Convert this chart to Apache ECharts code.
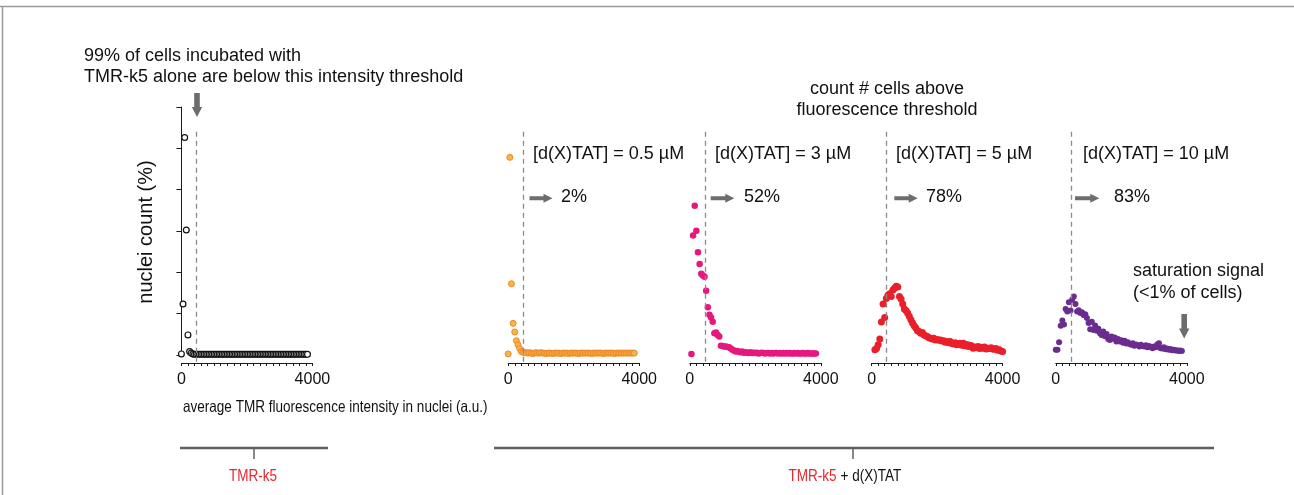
<!DOCTYPE html>
<html>
<head>
<meta charset="utf-8">
<script src="https://cdn.jsdelivr.net/npm/echarts@6.0.0/dist/echarts.min.js"></script>
<style>
  html, body { margin: 0; padding: 0; background: #fff; }
  #chart { width: 1294px; height: 495px; }
</style>
</head>
<body>
<div id="chart"></div>
<script>
// intensity bins (a.u.)
const bins = [
  0, 50, 100, 150, 200, 250, 300, 350, 400, 450,
  500, 550, 600, 650, 700, 750, 800, 850, 900, 950,
  1000, 1050, 1100, 1150, 1200, 1250, 1300, 1350, 1400, 1450,
  1500, 1550, 1600, 1650, 1700, 1750, 1800, 1850, 1900, 1950,
  2000, 2050, 2100, 2150, 2200, 2250, 2300, 2350, 2400, 2450,
  2500, 2550, 2600, 2650, 2700, 2750, 2800, 2850, 2900, 2950,
  3000, 3050, 3100, 3150, 3200, 3250, 3300, 3350, 3400, 3450,
  3500, 3550, 3600, 3650, 3700, 3750, 3800, 3850, 3900, 3950,
  4000
];

// nuclei count (%) per bin
const tmrAlone = [
  0.2, 12.3, 52.6, 30.2, 4.8, 0.8, 0.4, 0.2, 0.1, 0.1,
  0.1, 0.1, 0.1, 0.1, 0.1, 0.1, 0.1, 0.1, 0.1, 0.1,
  0.1, 0.1, 0.1, 0.1, 0.1, 0.1, 0.1, 0.1, 0.1, 0.1,
  0.1, 0.1, 0.1, 0.1, 0.1, 0.1, 0.1, 0.1, 0.1, 0.1,
  0.1, 0.1, 0.1, 0.1, 0.1, 0.1, 0.1, 0.1, 0.1, 0.1,
  0.1, 0.1, 0.1, 0.1, 0.1, 0.1, 0.1, 0.1, 0.1, 0.1,
  0.1, 0.1, 0.1, 0.1, 0.1, 0.1, 0.1, 0.1, 0.1, 0.1,
  0.1, 0.1, 0.1, 0.1, 0.1, 0.1, 0.1, 0.1, null, null,
  null
];
const tat05 = [
  0.2, 47.8, 17.2, 7.6, 5.5, 3.4, 2.4, 1.5, 0.8, 0.6,
  0.5, 0.5, 0.4, 0.5, 0.4, 0.3, 0.4, 0.5, 0.4, 0.4,
  0.5, 0.4, 0.4, 0.3, 0.4, 0.4, 0.4, 0.3, 0.4, 0.4,
  0.4, 0.4, 0.3, 0.4, 0.4, 0.4, 0.4, 0.3, 0.4, 0.4,
  0.4, 0.4, 0.4, 0.3, 0.4, 0.4, 0.4, 0.4, 0.4, 0.4,
  0.4, 0.3, 0.4, 0.4, 0.4, 0.4, 0.4, 0.4, 0.3, 0.4,
  0.4, 0.4, 0.4, 0.4, 0.4, 0.3, 0.4, 0.4, 0.4, 0.4,
  0.4, 0.4, 0.4, 0.4, 0.4, 0.4, 0.4, 0.4, null, null,
  null
];
const tat3 = [
  null, 0.2, 28.9, 36.1, 30.0, 24.8, 22.0, 19.6, 19.2, 18.9,
  15.5, 11.5, 9.7, 9.0, 8.0, 5.2, 5.4, 4.8, 4.4, 2.2,
  2.1, 2.0, 2.0, 1.9, 1.8, 1.5, 1.2, 1.0, 0.8, 0.9,
  0.7, 0.6, 0.8, 0.5, 0.6, 0.5, 0.4, 0.6, 0.4, 0.5,
  0.4, 0.5, 0.3, 0.4, 0.5, 0.4, 0.3, 0.4, 0.4, 0.3,
  0.4, 0.3, 0.4, 0.4, 0.3, 0.4, 0.3, 0.4, 0.3, 0.4,
  0.3, 0.4, 0.3, 0.3, 0.4, 0.3, 0.4, 0.3, 0.3, 0.4,
  0.3, 0.3, 0.4, 0.3, 0.3, 0.3, 0.3, 0.3, null, null,
  null
];
const tat5 = [
  null, null, 1.2, 1.5, 2.4, 3.8, 7.9, 12.3, 9.0, 13.6,
  14.4, 14.8, 14.1, 15.7, 16.1, 16.6, 16.4, 14.1, 13.5, 12.3,
  11.1, 10.7, 10.1, 9.3, 8.5, 7.7, 7.0, 6.5, 5.8, 5.6,
  5.2, 5.4, 4.8, 4.6, 4.4, 4.1, 4.0, 3.8, 4.0, 3.6,
  3.7, 3.5, 3.6, 3.3, 3.4, 3.0, 3.2, 2.9, 3.2, 2.7,
  2.6, 2.9, 2.4, 2.6, 2.8, 2.3, 2.8, 2.2, 2.5, 2.0,
  2.3, 2.2, 1.6, 1.9, 1.7, 2.0, 1.5, 1.8, 1.6, 1.9,
  1.4, 1.6, 1.5, 1.7, 1.4, 1.3, 1.5, 1.1, 1.2, 0.9,
  0.8
];
const tat10 = [
  1.2, 1.2, 3.0, 7.0, 8.3, 7.3, 11.1, 10.5, 12.7, 10.7,
  13.3, 14.1, 12.3, 10.5, 10.8, 10.1, 10.3, 9.6, 9.8, 8.9,
  7.7, 6.2, 8.0, 6.0, 7.1, 5.8, 6.3, 5.2, 4.8, 5.6,
  4.5, 5.0, 3.8, 3.6, 4.4, 3.9, 4.2, 3.2, 3.8, 3.2,
  3.5, 2.9, 3.4, 2.7, 3.0, 2.6, 2.4, 2.8, 2.2, 2.5,
  2.3, 2.0, 2.4, 2.1, 2.0, 2.3, 1.8, 2.1, 1.9, 1.6,
  2.0, 1.8, 2.5, 2.8, 1.6, 1.5, 1.8, 1.3, 1.5, 1.2,
  1.4, 1.1, 1.2, 1.0, 1.1, 0.9, 1.0, 0.9, null, null,
  null
];

const threshold = 460;
const concLabels = ['[d(X)TAT] = 0.5 µM', '[d(X)TAT] = 3 µM', '[d(X)TAT] = 5 µM', '[d(X)TAT] = 10 µM'];
const aboveLabels = ['2%', '52%', '78%', '83%'];

// layout
const panelLeft = [181.4, 508.2, 689.8, 871.6, 1055.8];
const panelW = 131, panelTop = 107, panelH = 256;   // bottom of plot = x axis line
const FONT = "'Liberation Sans', Arial, sans-serif";
const AXIS = '#1a1a1a';
const ARROW = '#6d6d6d';

const styles = [
  { color: '#ffffff', borderColor: '#111111', borderWidth: 1.2, size: 5.8 },
  { color: '#f8b250', borderColor: '#ee8a22', borderWidth: 1, size: 6 },
  { color: '#e6187d', borderColor: '#e6187d', borderWidth: 0, size: 6.5 },
  { color: '#ea1f2a', borderColor: '#ea1f2a', borderWidth: 0, size: 7 },
  { color: '#6a2c8f', borderColor: '#6a2c8f', borderWidth: 0, size: 6 }
];
const seriesVals = [tmrAlone, tat05, tat3, tat5, tat10];

function pts(vals) {
  return bins.map((b, i) => [b, vals[i]]).filter(p => p[1] !== null);
}

const grids = [], xAxes = [], yAxes = [], series = [];
panelLeft.forEach((left, i) => {
  grids.push({ left: left, top: panelTop, width: panelW, height: panelH });
  xAxes.push({
    gridIndex: i, type: 'value', min: 0, max: 4000, interval: 200,
    axisLine: { show: true, onZero: false, lineStyle: { color: AXIS, width: 1 } },
    axisTick: { show: true, length: 3, lineStyle: { color: AXIS, width: 1 } },
    axisLabel: {
      show: true, margin: 9, fontSize: 16, color: '#111', fontFamily: FONT,
      formatter: v => (v === 0 || v === 4000) ? String(v) : ''
    },
    splitLine: { show: false }
  });
  // y = 0 sits a little above the x axis, as in the original R-style plot
  yAxes.push({ gridIndex: i, type: 'value', min: -2, max: 60, show: false });
  const s = styles[i];
  series.push({
    type: 'scatter', xAxisIndex: i, yAxisIndex: i, clip: false,
    symbol: 'circle', symbolSize: s.size,
    itemStyle: { color: s.color, borderColor: s.borderColor, borderWidth: s.borderWidth, opacity: 1 },
    data: pts(seriesVals[i]),
    markLine: {
      silent: true, symbol: ['none', 'none'], label: { show: false },
      lineStyle: { color: '#8a8a8a', width: 1.3, type: [5, 4] },
      data: [[{ coord: [threshold, 54] }, { coord: [threshold, -2] }]]
    },
    z: 3
  });
});

// separate grid only for the left y axis (0..60), which stops at y = 0
grids.push({ left: panelLeft[0], top: panelTop, width: panelW, height: 248 });
xAxes.push({ gridIndex: 5, type: 'value', min: 0, max: 4000, show: false });
yAxes.push({
  gridIndex: 5, type: 'value', min: 0, max: 60, interval: 10,
  axisLine: { show: true, onZero: false, lineStyle: { color: AXIS, width: 1 } },
  axisTick: { show: true, length: 5, lineStyle: { color: AXIS, width: 1 } },
  axisLabel: { show: false },
  splitLine: { show: false }
});

function text(str, x, y, opts) {
  opts = opts || {};
  return {
    type: 'text', z: 10, silent: true, rotation: opts.rotation || 0, x: x, y: y,
    scaleX: opts.scaleX || 1,
    style: {
      text: str, x: 0, y: 0,
      font: (opts.size || 18) + 'px ' + FONT,
      fill: opts.color || '#111',
      textAlign: opts.align || 'left', textVerticalAlign: 'middle'
    }
  };
}
function downArrow(cx, top, tip) {
  const headStart = tip - 10;
  return {
    type: 'polygon', z: 10, silent: true,
    shape: { points: [[cx - 2.8, top], [cx + 2.8, top], [cx + 2.8, headStart], [cx + 5.2, headStart],
      [cx, tip], [cx - 5.2, headStart], [cx - 2.8, headStart]] },
    style: { fill: ARROW }
  };
}
function rightArrow(x0, tip, cy) {
  const headStart = tip - 9;
  return {
    type: 'polygon', z: 10, silent: true,
    shape: { points: [[x0, cy - 2], [headStart, cy - 2], [headStart, cy - 4.5], [tip, cy],
      [headStart, cy + 4.5], [headStart, cy + 2], [x0, cy + 2]] },
    style: { fill: ARROW }
  };
}
function line(x1, y1, x2, y2, color, w) {
  return { type: 'line', z: 10, silent: true, shape: { x1: x1, y1: y1, x2: x2, y2: y2 },
    style: { stroke: color, lineWidth: w } };
}

const narrow = { size: 16.5, scaleX: 0.82 };
const graphics = [
  // frame
  line(0, 6.5, 1294, 6.5, '#9a9a9a', 1.5),
  line(2.5, 6.5, 2.5, 495, '#9a9a9a', 1.5),
  text('99% of cells incubated with', 84, 56.5),
  text('TMR-k5 alone are below this intensity threshold', 84, 77),
  downArrow(197, 93, 117),
  text('count # cells above', 887, 89, { align: 'center' }),
  text('fluorescence threshold', 887, 110, { align: 'center' }),
  text('saturation signal', 1133, 271),
  text('(<1% of cells)', 1133, 293),
  downArrow(1184.2, 314, 338.5),
  text('nuclei count (%)', 146, 232, { rotation: Math.PI / 2, align: 'center', size: 20 }),
  // condensed text, as in the original figure
  text('average TMR fluorescence intensity in nuclei (a.u.)', 183, 407, narrow),
  // group brackets
  line(180, 448, 328, 448, '#5f5f5f', 2.5),
  line(254, 448, 254, 459, '#5f5f5f', 1.5),
  line(494, 448, 1214, 448, '#5f5f5f', 2.5),
  line(853, 448, 853, 459, '#5f5f5f', 1.5),
  text('TMR-k5', 253, 476, Object.assign({ color: '#e8262d', align: 'center' }, narrow)),
  text('TMR-k5', 836.5, 476, Object.assign({ color: '#e8262d', align: 'right' }, narrow)),
  text('+ d(X)TAT', 840.5, 476, narrow)
];
const labelX = [533, 715, 896, 1083];
const arrowX = [[529.5, 552.5], [710.7, 734.3], [894.3, 917.7], [1075, 1099.3]];
const pctX = [561, 744, 926, 1114];
concLabels.forEach((lab, i) => {
  graphics.push(text(lab, labelX[i], 154.5));
  graphics.push(rightArrow(arrowX[i][0], arrowX[i][1], 198.3));
  graphics.push(text(aboveLabels[i], pctX[i], 197.5));
});

const chart = echarts.init(document.getElementById('chart'), null, { renderer: 'canvas' });
chart.setOption({
  backgroundColor: '#ffffff',
  animation: false,
  grid: grids,
  xAxis: xAxes,
  yAxis: yAxes,
  series: series,
  graphic: graphics
});
</script>
</body>
</html>
